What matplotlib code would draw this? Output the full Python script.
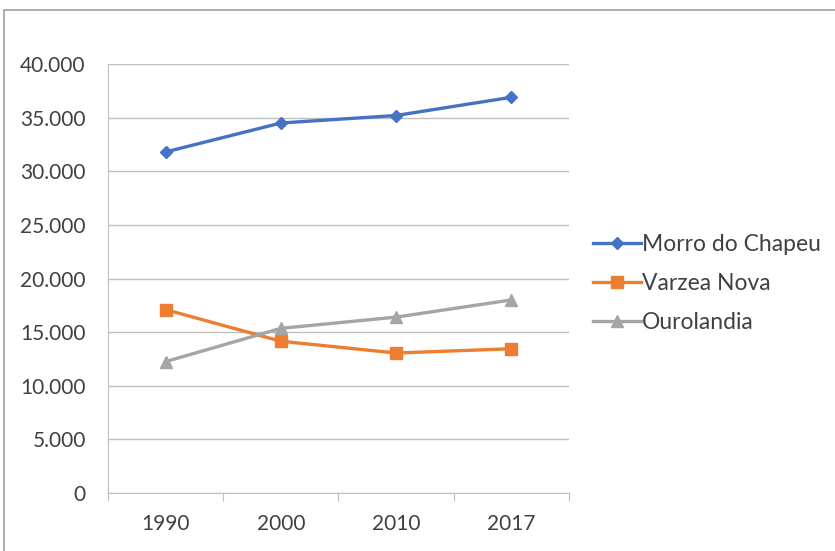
import numpy as np
import matplotlib.pyplot as plt
import matplotlib as mpl
from matplotlib.ticker import FuncFormatter

# population data
years = ['1990', '2000', '2010', '2017']
morro = [31800, 34500, 35200, 36900]
varzea = [17100, 14150, 13050, 13450]
ouro = [12250, 15350, 16400, 18000]

mpl.rcParams['font.family'] = ['Lato', 'DejaVu Sans']
mpl.rcParams['font.size'] = 15

fig = plt.figure(figsize=(8.35, 5.51), dpi=100)
ax = fig.add_axes([0.1293, 0.1053, 0.5521, 0.7785])

x = np.arange(len(years)) + 0.5
ax.plot(x, morro, color='#4472C4', lw=2.4, marker='D', ms=6.5, label='Morro do Chapeu')
ax.plot(x, varzea, color='#ED7D31', lw=2.4, marker='s', ms=8, label='Varzea Nova')
ax.plot(x, ouro, color='#A5A5A5', lw=2.4, marker='^', ms=8, label='Ourolandia')

ax.set_xlim(0, 4)
ax.set_ylim(0, 40000)
ax.set_yticks(np.arange(0, 40001, 5000))
ax.yaxis.set_major_formatter(FuncFormatter(lambda v, p: f'{int(v):,}'.replace(',', '.')))
ax.set_xticks(np.arange(0, 5))
ax.set_xticklabels([])
ax.set_xticks(x, minor=True)
ax.set_xticklabels(years, minor=True)
ax.tick_params(axis='x', which='major', length=6, color='#BFBFBF')
ax.tick_params(axis='x', which='minor', length=0, pad=15, colors='#404040')
ax.tick_params(axis='y', length=0, pad=16, colors='#404040')
ax.grid(axis='y', color='#BFBFBF', lw=1)
ax.set_axisbelow(True)
for s in ['top', 'right']:
    ax.spines[s].set_visible(False)
ax.spines['left'].set_color('#BFBFBF')
ax.spines['bottom'].set_color('#BFBFBF')

leg = fig.legend(loc='upper left', bbox_to_anchor=(0.685, 0.612), frameon=False,
                 fontsize=16.5, handlelength=2.1, handletextpad=0.05, labelspacing=0.78)
for t in leg.get_texts():
    t.set_color('#404040')

# outer frame of the embedded chart
fig.add_artist(plt.Rectangle((4 / 835, -0.1), 1.2, 1.1 - 10 / 551, transform=fig.transFigure,
                             fill=False, ec='#A0A0A0', lw=1.2))

fig.savefig('out.png', dpi=100)
